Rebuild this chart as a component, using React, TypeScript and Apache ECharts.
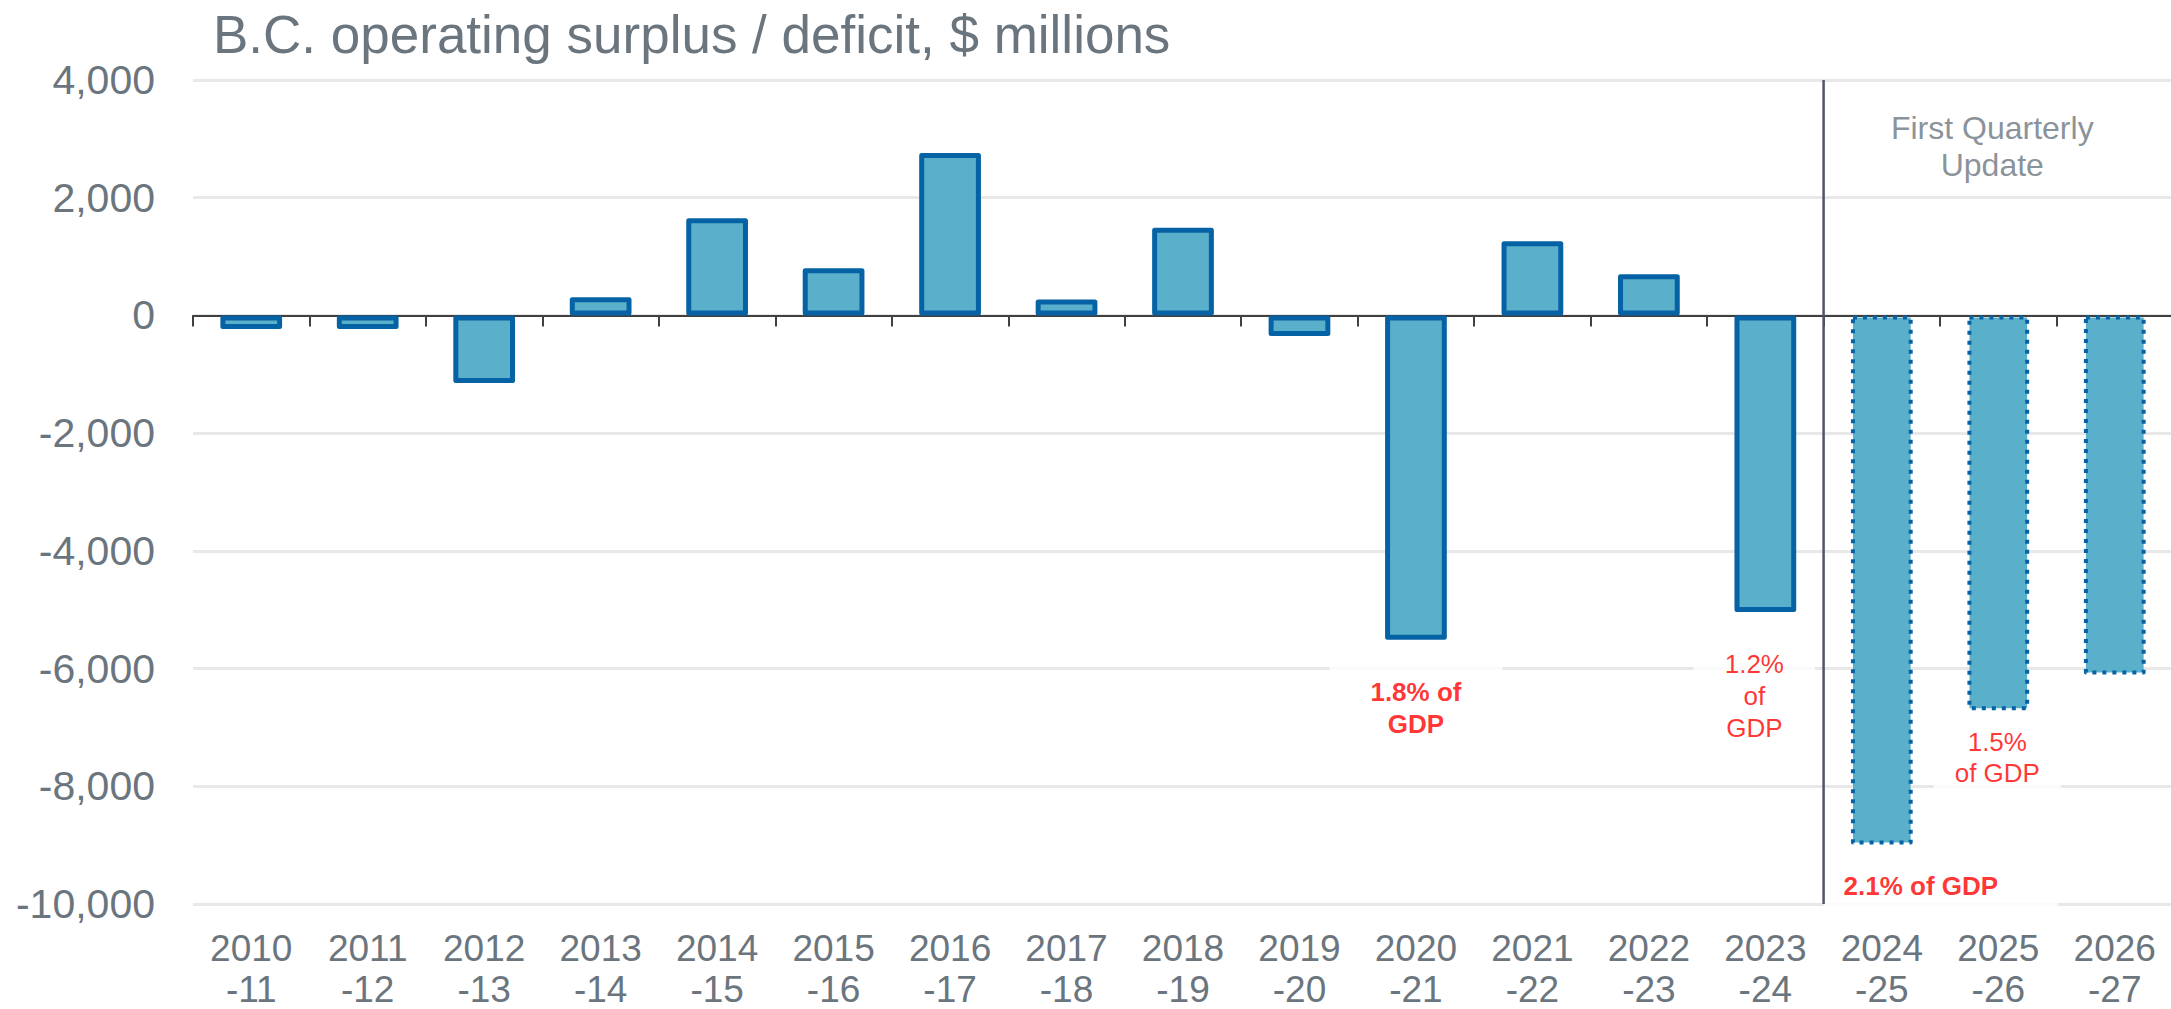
import React, { useEffect, useRef } from "react";
import * as echarts from "echarts";

// ---------- data ----------
const categories = [
  "2010\n-11", "2011\n-12", "2012\n-13", "2013\n-14", "2014\n-15", "2015\n-16",
  "2016\n-17", "2017\n-18", "2018\n-19", "2019\n-20", "2020\n-21", "2021\n-22",
  "2022\n-23", "2023\n-24", "2024\n-25", "2025\n-26", "2026\n-27",
];
const balance = [
  -230, -230, -1150, 310, 1650, 800, 2760, 270, 1490, -350, -5510, 1260, 700, -5040,
  -8990, -6710, -6100,
];
const projectedFromIndex = 14; // First Quarterly Update forecasts start here
const dividerBoundary = 14; // boundary (in category units) where the divider sits
const yMin = -10000;
const yMax = 4000;
const yInterval = 2000;

const titleText = "B.C. operating surplus / deficit, $ millions";

const annotationTexts = ["1.8% of\nGDP", "1.2%\nof\nGDP", "2.1% of GDP", "1.5%\nof GDP", "First Quarterly\nUpdate"];
const annotationCategories = [10, 13, 14, 15, 15];
const annotationValues = [-6665, -6467, -9700, -7510, 2863];

// ---------- styles ----------
const FONT = '"Liberation Sans", Arial, Helvetica, sans-serif';
const GRAY = "#6b757e";
const RED = "#ff0000";
const FILL = "#5aafca";
const BORDER = "#0563a5";

const annotationStyles = [
  { fontWeight: "bold", color: RED, fontSize: 26, lineHeight: 32, padding: [10, 41, 10, 41], offset: [0, 0], backgroundColor: "#ffffff" },
  { fontWeight: "normal", color: RED, fontSize: 26, lineHeight: 32, padding: [6, 31, 6, 31], offset: [-11, 0], backgroundColor: "#ffffff" },
  { fontWeight: "bold", color: RED, fontSize: 26, lineHeight: 31, padding: [6, 60, 8, 20], offset: [59, 0], backgroundColor: "#ffffff" },
  { fontWeight: "normal", color: RED, fontSize: 26, lineHeight: 31, padding: [6, 21, 6, 21], offset: [-1, 0], backgroundColor: "#ffffff" },
  { fontWeight: "normal", color: GRAY, fontSize: 32, lineHeight: 37, padding: [0, 0, 0, 0], offset: [-6, 0], backgroundColor: "transparent" },
];

function fmt(v: number) {
  return v.toLocaleString("en-US");
}

export default function App() {
  const ref = useRef<HTMLDivElement>(null);

  useEffect(() => {
    if (!ref.current) return;
    const chart = echarts.init(ref.current, null, { renderer: "svg" });

    const barData = balance.map((v, i) =>
      i >= projectedFromIndex
        ? {
            value: v,
            itemStyle: {
              color: FILL,
              borderColor: BORDER,
              borderWidth: 4,
              borderType: [4, 6],
              borderCap: "butt",
            },
          }
        : { value: v }
    );

    const annotationData = annotationTexts.map((t, i) => {
      const s = annotationStyles[i];
      return {
        value: [annotationCategories[i], annotationValues[i]],
        label: {
          show: true,
          position: "inside",
          formatter: t,
          align: "center",
          verticalAlign: "middle",
          fontFamily: FONT,
          fontSize: s.fontSize,
          fontWeight: s.fontWeight,
          lineHeight: s.lineHeight,
          color: s.color,
          backgroundColor: s.backgroundColor,
          padding: s.padding,
          offset: s.offset,
        },
      };
    });

    const option: any = {
      animation: false,
      backgroundColor: "#ffffff",
      textStyle: { fontFamily: FONT },
      title: {
        text: titleText,
        left: 213,
        top: 8,
        padding: 0,
        textStyle: { fontFamily: FONT, fontSize: 53, fontWeight: "normal", color: GRAY },
      },
      grid: {
        left: 193,
        right: -2,
        top: 80,
        bottom: 105,
        containLabel: false,
        outerBoundsMode: "none",
      },
      xAxis: [
        {
          type: "category",
          data: categories,
          position: "bottom",
          axisLine: { show: false, onZero: false },
          axisTick: { show: false },
          splitLine: { show: false },
          axisLabel: {
            fontFamily: FONT,
            fontSize: 37,
            lineHeight: 41,
            color: GRAY,
            margin: 24,
            interval: 0,
          },
        },
        {
          type: "category",
          data: categories,
          position: "bottom",
          axisLine: { show: true, onZero: true, lineStyle: { color: "#404040", width: 2 } },
          axisTick: { show: true, length: 11, lineStyle: { color: "#404040", width: 2 } },
          axisLabel: { show: false },
          splitLine: { show: false },
        },
        {
          type: "value",
          min: 0,
          max: categories.length,
          show: false,
          axisLine: { onZero: false },
        },
      ],
      yAxis: {
        type: "value",
        min: yMin,
        max: yMax,
        interval: yInterval,
        axisLine: { show: false, onZero: false },
        axisTick: { show: false },
        axisLabel: {
          fontFamily: FONT,
          fontSize: 41,
          color: GRAY,
          margin: 38,
          formatter: (v: number) => fmt(v),
        },
        splitLine: { show: true, lineStyle: { color: "#e8e8e8", width: 3 } },
      },
      series: [
        {
          type: "bar",
          xAxisIndex: 0,
          yAxisIndex: 0,
          data: barData,
          barWidth: "53%",
          z: 2,
          itemStyle: {
            color: FILL,
            borderColor: BORDER,
            borderWidth: 5,
            borderJoin: "round",
          },
          silent: true,
        },
        {
          type: "scatter",
          xAxisIndex: 0,
          yAxisIndex: 0,
          data: annotationData,
          symbolSize: 1,
          itemStyle: { color: "rgba(0,0,0,0)" },
          z: 3,
          silent: true,
        },
        {
          type: "line",
          xAxisIndex: 2,
          yAxisIndex: 0,
          data: [
            [dividerBoundary, yMax],
            [dividerBoundary, yMin],
          ],
          symbol: "none",
          lineStyle: { color: "#50546e", width: 2.5 },
          z: 10,
          silent: true,
        },
      ],
    };

    chart.setOption(option);
    return () => chart.dispose();
  }, []);

  return (
    <div
      ref={ref}
      style={{ position: "absolute", left: 0, top: 0, width: 2171, height: 1009, background: "#fff" }}
    />
  );
}
